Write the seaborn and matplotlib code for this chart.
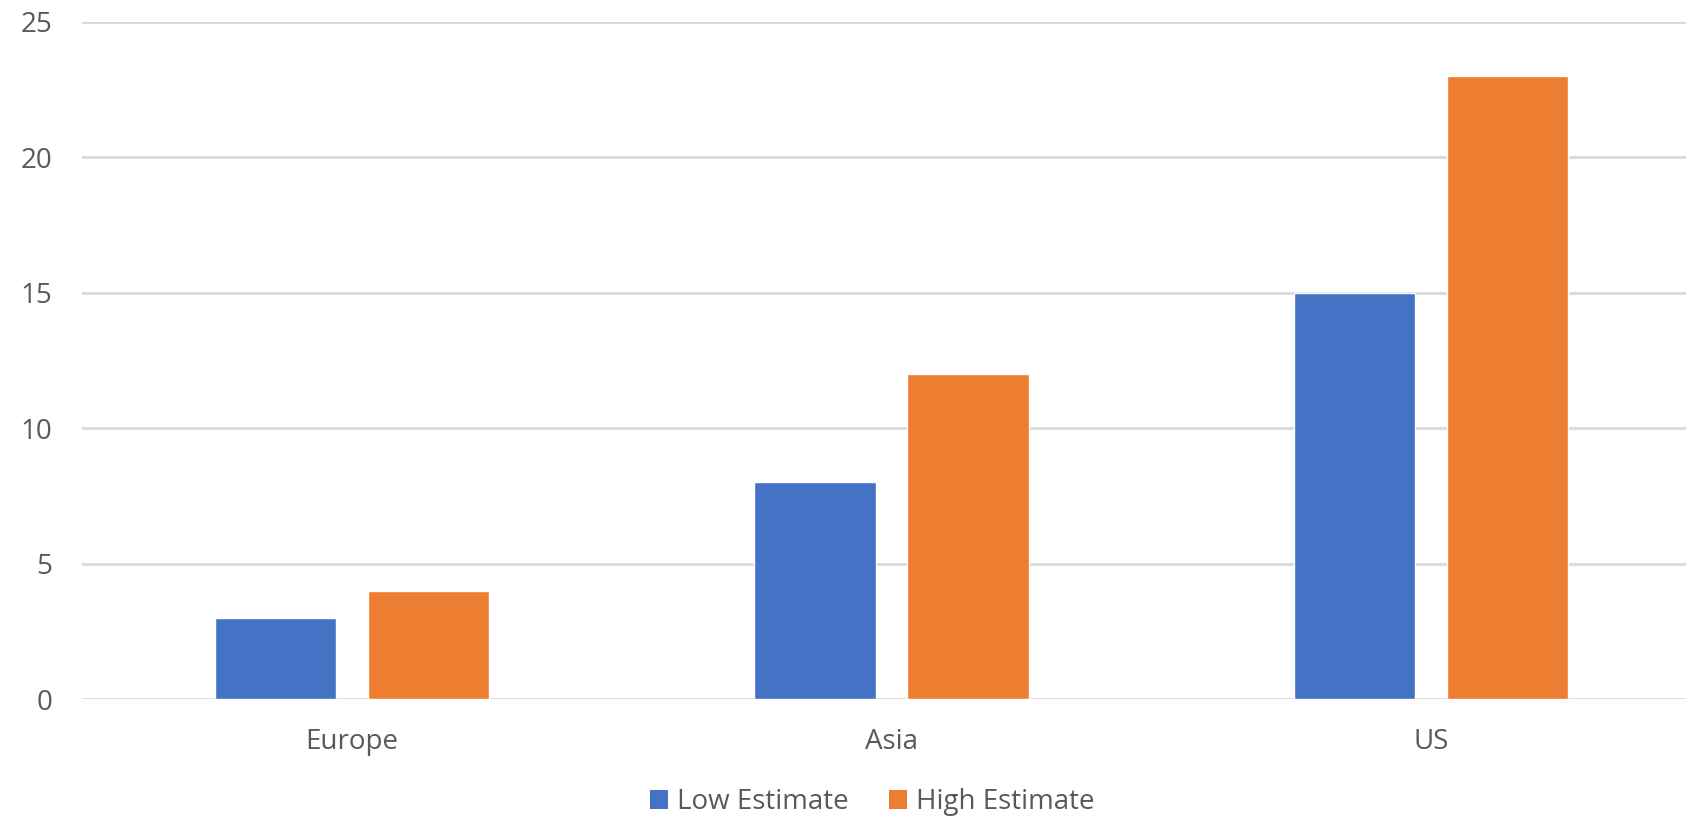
import numpy as np
import pandas as pd
import seaborn as sns
import matplotlib.pyplot as plt
from matplotlib.patches import Patch

# chart data
regions = ["Europe", "Asia", "US"]
low_estimate = [3, 8, 15]
high_estimate = [4, 12, 23]
series_names = ["Low Estimate", "High Estimate"]
y_ticks = [0, 5, 10, 15, 20, 25]

colors = ["#4472C4", "#ED7D31"]
text_color = "#595959"
grid_color = "#D9D9D9"

sns.set_theme(style="white")
plt.rcParams["font.family"] = ["Open Sans", "DejaVu Sans"]

df = pd.DataFrame({
    "region": regions * 2,
    "series": [series_names[0]] * len(regions) + [series_names[1]] * len(regions),
    "value": low_estimate + high_estimate,
})

fig = plt.figure(figsize=(16.86, 8.22), dpi=100)
# right edge of the plot area runs slightly past the figure, as in the source
ax = fig.add_axes([82 / 1686, 123 / 822, (1701 - 82) / 1686, (699 - 22) / 822])

sns.barplot(
    data=df, x="region", y="value", hue="series",
    order=regions, hue_order=series_names, palette=colors,
    width=0.567, gap=0.209, saturation=1, errorbar=None,
    legend=False, ax=ax, zorder=3,
)

ax.set_ylim(0, 25)
ax.set_xlim(-0.5, len(regions) - 0.5)
ax.set_yticks(y_ticks)
ax.yaxis.grid(True, color=grid_color, linewidth=2)
ax.set_axisbelow(True)
for side in ["top", "right", "left", "bottom"]:
    ax.spines[side].set_visible(False)
ax.set_xlabel("")
ax.set_ylabel("")
ax.tick_params(axis="y", length=0, pad=21.5, labelsize=20, labelcolor=text_color)
ax.tick_params(axis="x", length=0, pad=21, labelsize=20, labelcolor=text_color)

handles = [Patch(facecolor=c, edgecolor="none") for c in colors]
fig.legend(
    handles, series_names, loc="center", bbox_to_anchor=(872 / 1686, 1 - 802 / 822),
    ncol=2, frameon=False, fontsize=20, labelcolor=text_color,
    handlelength=0.65, handleheight=0.65, handletextpad=0.32, columnspacing=1.44,
    borderpad=0, borderaxespad=0,
)

fig.savefig("out.png", dpi=100)
